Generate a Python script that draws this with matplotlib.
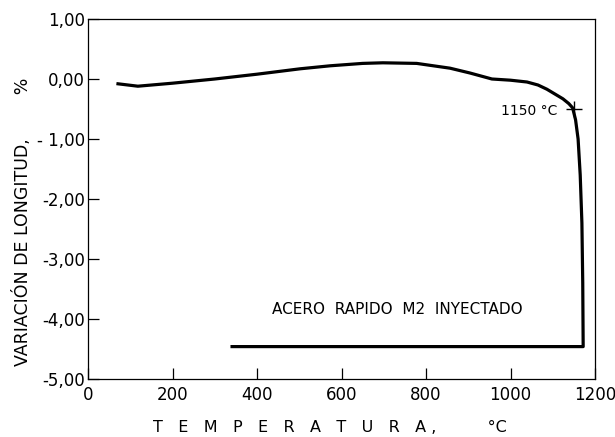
import matplotlib.pyplot as plt

# curve (heating, then the drop and cooling leg)
temperatura = [71, 118, 200, 300, 400, 502, 573, 650, 698, 778, 857, 904, 956,
               1000, 1039, 1065, 1086, 1105, 1124, 1138, 1147, 1154, 1160,
               1165, 1169, 1171, 1172, 341]
variacion = [-0.08, -0.12, -0.07, 0.0, 0.08, 0.17, 0.22, 0.26, 0.27, 0.26, 0.18,
             0.10, 0.0, -0.02, -0.05, -0.10, -0.17, -0.25, -0.33, -0.41, -0.48,
             -0.68, -1.0, -1.6, -2.4, -3.4, -4.46, -4.46]

x_ticks = [0, 200, 400, 600, 800, 1000, 1200]
y_ticks = [1, 0, -1, -2, -3, -4, -5]
y_labels = ["1,00", "0,00", "- 1,00", "-2,00", "-3,00", "-4,00", "-5,00"]

marca_t, marca_v = 1150, -0.5

fig = plt.figure(figsize=(6.15, 4.37), dpi=100)
ax = fig.add_axes([88 / 615, 1 - 379 / 437, 507 / 615, 360 / 437])

ax.plot(temperatura, variacion, color="black", linewidth=2.3,
        solid_joinstyle="round")
ax.plot([marca_t], [marca_v], marker="+", markersize=12, color="black",
        markeredgewidth=1.0)
ax.text(1112, -0.53, "1150 °C", fontsize=10, ha="right", va="center")
ax.text(731, -3.85, "ACERO  RAPIDO  M2  INYECTADO", fontsize=11,
        ha="center", va="center")

ax.set_xlim(0, 1200)
ax.set_ylim(-5, 1)
ax.set_xticks(x_ticks)
ax.set_yticks(y_ticks)
ax.set_yticklabels(y_labels)
ax.tick_params(direction="in", length=8, width=0.9, labelsize=12, pad=2)
ax.tick_params(axis="x", pad=5)
for s in ax.spines.values():
    s.set_linewidth(0.9)

fig.text(0.036, 1 - 222 / 437,
         "VARIACIÓN DE LONGITUD,        %", rotation=90, fontsize=12.5,
         ha="center", va="center")
fig.text(330 / 615, 1 - 427 / 437,
         "T   E   M   P   E   R   A   T   U   R   A ,          °C",
         fontsize=11.5, ha="center", va="center")

fig.savefig("out.png", dpi=100)
